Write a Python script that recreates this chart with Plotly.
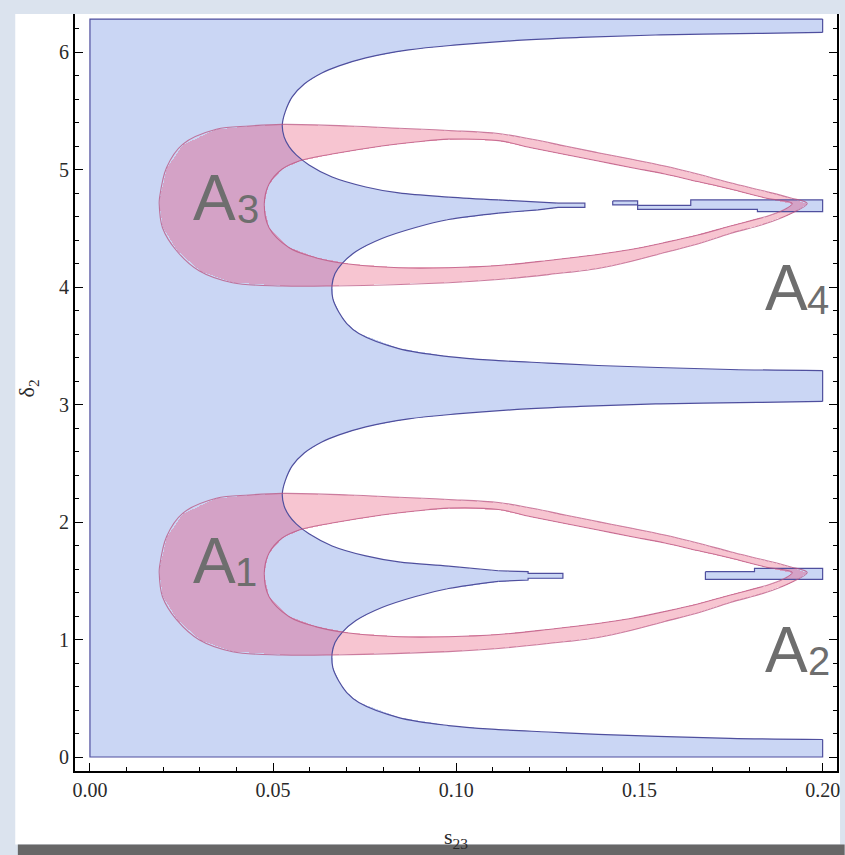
import numpy as np
import plotly.graph_objects as go

# ---------------------------------------------------------------- axes
S23_MIN, S23_MAX = 0.0, 0.2
DELTA_MIN, DELTA_MAX = 0.0, 2 * np.pi
LOBE_CENTRES = [np.pi / 2, 3 * np.pi / 2]

X_TICKS = [0.0, 0.05, 0.10, 0.15, 0.20]
X_TICK_TEXT = ["0.00", "0.05", "0.10", "0.15", "0.20"]
Y_TICKS = [0, 1, 2, 3, 4, 5, 6]

# ------------------------------------------- excluded (white) lobes
# delta values are offsets from the lobe centre (pi/2 or 3pi/2)
# upper branch, outer edge: right border -> leftmost point
UPPER_OUTER_S = [0.2000, 0.1822, 0.1558, 0.1338, 0.1191, 0.1001, 0.0870,
                 0.0753, 0.0680, 0.0633, 0.0585, 0.0552, 0.0533, 0.0525]
UPPER_OUTER_D = [1.457, 1.448, 1.436, 1.414, 1.393, 1.350, 1.308,
                 1.240, 1.172, 1.112, 1.018, 0.908, 0.780, 0.669]
# upper branch, inner edge: leftmost point -> start of the spike
UPPER_INNER_S = [0.0530, 0.0544, 0.0563, 0.0598, 0.0661, 0.0753, 0.0843, 0.0979]
UPPER_INNER_D = [0.567, 0.482, 0.414, 0.329, 0.226, 0.141, 0.090, 0.055]
# lower branch, inner edge: start of the spike -> leftmost point
LOWER_INNER_S = [0.0979, 0.0889, 0.0797, 0.0726, 0.0688, 0.0669, 0.0661]
LOWER_INNER_D = [-0.136, -0.204, -0.298, -0.409, -0.511, -0.596, -0.690]
# lower branch, outer edge: leftmost point -> right border
LOWER_OUTER_S = [0.0663, 0.0680, 0.0701, 0.0734, 0.0843, 0.0979, 0.1115,
                 0.1251, 0.1387, 0.1550, 0.1748, 0.2000]
LOWER_OUTER_D = [-0.809, -0.928, -1.022, -1.107, -1.235, -1.303, -1.337,
                 -1.358, -1.379, -1.396, -1.413, -1.422]

# the allowed spike reaching into each lobe (lower lobe, upper lobe)
SPIKE_TOP_S = [[0.1115, 0.1196, 0.1196, 0.1291],
               [0.1115, 0.1223, 0.1278, 0.1351]]
SPIKE_TOP_D = [[0.015, 0.007, -0.007, -0.007],
               [0.031, 0.016, 0.003, 0.003]]
SPIKE_BOT_S = [[0.1291, 0.1196, 0.1196, 0.1115],
               [0.1351, 0.1278, 0.1223, 0.1115]]
SPIKE_BOT_D = [[-0.049, -0.049, -0.064, -0.075],
               [-0.032, -0.032, -0.054, -0.081]]

# detached allowed strips near the right border (lower lobe, upper lobe)
STRIP_S = [[0.1680, 0.1814, 0.1814, 0.2000, 0.2000, 0.1680],
           [0.1427, 0.1495, 0.1495, 0.1640, 0.1640, 0.2000,
            0.2000, 0.1822, 0.1822, 0.1495, 0.1495, 0.1427]]
STRIP_D = [[0.007, 0.007, 0.036, 0.036, -0.058, -0.058],
           [0.022, 0.022, -0.015, -0.015, 0.031, 0.031,
            -0.069, -0.069, -0.049, -0.049, -0.012, -0.012]]

# ------------------------------------------------- pink bands (rings)
RING_OUTER_S = [0.1958, 0.1911, 0.1841, 0.1748, 0.1659, 0.1569, 0.1476, 0.1387,
                0.1297, 0.1204, 0.1115, 0.0979, 0.0843, 0.0707, 0.0525, 0.0435,
                0.0345, 0.0253, 0.0209, 0.0190, 0.0189, 0.0198, 0.0237, 0.0299,
                0.0389, 0.0525, 0.0661, 0.0979, 0.1115, 0.1251, 0.1387, 0.1476,
                0.1569, 0.1659, 0.1748, 0.1841, 0.1911]
RING_OUTER_D = [0.000, 0.049, 0.106, 0.177, 0.251, 0.319, 0.379, 0.433,
                0.490, 0.549, 0.596, 0.622, 0.641, 0.660, 0.674, 0.660,
                0.632, 0.504, 0.305, 0.049, 0.000, -0.206, -0.404, -0.575,
                -0.674, -0.702, -0.702, -0.674, -0.647, -0.605, -0.553, -0.494,
                -0.417, -0.345, -0.255, -0.175, -0.089]
RING_INNER_S = [0.1917, 0.1841, 0.1748, 0.1659, 0.1569, 0.1476, 0.1387, 0.1297,
                0.1204, 0.1115, 0.0979, 0.0889, 0.0797, 0.0661, 0.0571, 0.0525,
                0.0489, 0.0476, 0.0489, 0.0544, 0.0616, 0.0707, 0.0843, 0.0979,
                0.1115, 0.1251, 0.1387, 0.1476, 0.1569, 0.1659, 0.1748, 0.1841,
                0.1890]
RING_INNER_D = [0.000, 0.049, 0.123, 0.187, 0.251, 0.307, 0.362, 0.417,
                0.475, 0.536, 0.548, 0.524, 0.490, 0.421, 0.362, 0.294,
                0.166, 0.000, -0.206, -0.376, -0.461, -0.515, -0.547, -0.547,
                -0.528, -0.485, -0.434, -0.392, -0.332, -0.268, -0.192, -0.115,
                -0.060]

# --------------------------------------------------------------- labels
REGION_NAMES = ["A", "A", "A", "A"]
REGION_INDEX = ["1", "2", "3", "4"]
LABEL_S = [0.0277, 0.1838, 0.0277, 0.1838]
LABEL_D = [1.670, 0.913, 4.761, 3.995]
INDEX_S = [0.0426, 0.1990, 0.0432, 0.1988]
INDEX_D = [1.575, 0.817, 4.666, 3.891]

# --------------------------------------------------------------- colours
BLUE = "#cad6f4"
PINK = "#f7c5d1"
MAUVE = "#d4a2c6"
BLUE_EDGE = "#4f4f9e"
PINK_EDGE = "rgba(185,80,125,0.75)"
LABEL_GREY = "#6e6e6e"
PAPER = "#dbe3ee"


def lobe_outline(k, c):
    s = (UPPER_OUTER_S + UPPER_INNER_S + SPIKE_TOP_S[k] + SPIKE_BOT_S[k]
         + LOWER_INNER_S + LOWER_OUTER_S)
    d = (UPPER_OUTER_D + UPPER_INNER_D + SPIKE_TOP_D[k] + SPIKE_BOT_D[k]
         + LOWER_INNER_D + LOWER_OUTER_D)
    return np.array(s), c + np.array(d)


def inside(ps, pd, S, D):
    ps = np.asarray(ps)
    pd = np.asarray(pd)
    res = np.zeros(S.shape, dtype=bool)
    j = len(ps) - 1
    with np.errstate(divide="ignore", invalid="ignore"):
        for i in range(len(ps)):
            cross = (pd[i] > D) != (pd[j] > D)
            xint = (ps[j] - ps[i]) * (D - pd[i]) / (pd[j] - pd[i]) + ps[i]
            res ^= cross & (S < xint)
            j = i
    return res


# raster of the region classes on the (s23, delta) plane
NS, ND = 736, 740
s_cells = S23_MIN + (np.arange(NS) + 0.5) * (S23_MAX - S23_MIN) / NS
d_cells = DELTA_MIN + (np.arange(ND) + 0.5) * (DELTA_MAX - DELTA_MIN) / ND
S, D = np.meshgrid(s_cells, d_cells)

excluded = np.zeros(S.shape, dtype=bool)
pink = np.zeros(S.shape, dtype=bool)
for k, c in enumerate(LOBE_CENTRES):
    ls, ld = lobe_outline(k, c)
    excluded |= inside(ls, ld, S, D) & ~inside(STRIP_S[k], c + np.array(STRIP_D[k]), S, D)
    pink |= (inside(RING_OUTER_S, c + np.array(RING_OUTER_D), S, D)
             & ~inside(RING_INNER_S, c + np.array(RING_INNER_D), S, D))
allowed = ~excluded
z = (allowed.astype(np.int8) + 2 * pink.astype(np.int8))

colorscale = [[0.0, "#ffffff"], [0.25, "#ffffff"], [0.25, BLUE], [0.5, BLUE],
              [0.5, PINK], [0.75, PINK], [0.75, MAUVE], [1.0, MAUVE]]

fig = go.Figure()
fig.add_trace(go.Heatmap(x=s_cells, y=d_cells, z=z, zmin=-0.5, zmax=3.5,
                         colorscale=colorscale, showscale=False,
                         hoverinfo="skip", zsmooth=False))


def edge(xs, ys, color, shape="linear", width=1.2):
    fig.add_trace(go.Scatter(x=xs, y=ys, mode="lines", hoverinfo="skip",
                             showlegend=False,
                             line=dict(color=color, width=width, shape=shape,
                                       smoothing=1.0 if shape == "spline" else None)))


# boundary of the blue (allowed) region: frame pieces
lo_top = UPPER_OUTER_D[0]
lo_bot = LOWER_OUTER_D[-1]
c1, c2 = LOBE_CENTRES
edge([S23_MAX, S23_MIN, S23_MIN, S23_MAX, S23_MAX],
     [DELTA_MAX, DELTA_MAX, DELTA_MIN, DELTA_MIN, c1 + lo_bot], BLUE_EDGE)
edge([S23_MAX, S23_MAX], [c1 + lo_top, c2 + lo_bot], BLUE_EDGE)
edge([S23_MAX, S23_MAX], [c2 + lo_top, DELTA_MAX], BLUE_EDGE)

# lobe edges: smooth branches plus the stepped spike
for k, c in enumerate(LOBE_CENTRES):
    us = UPPER_OUTER_S + UPPER_INNER_S + SPIKE_TOP_S[k][:1]
    ud = UPPER_OUTER_D + UPPER_INNER_D + SPIKE_TOP_D[k][:1]
    edge(us, list(c + np.array(ud)), BLUE_EDGE, "spline")
    ks = SPIKE_TOP_S[k] + SPIKE_BOT_S[k]
    kd = SPIKE_TOP_D[k] + SPIKE_BOT_D[k]
    edge(ks, list(c + np.array(kd)), BLUE_EDGE)
    ws = SPIKE_BOT_S[k][-1:] + LOWER_INNER_S + LOWER_OUTER_S
    wd = SPIKE_BOT_D[k][-1:] + LOWER_INNER_D + LOWER_OUTER_D
    edge(ws, list(c + np.array(wd)), BLUE_EDGE, "spline")
    edge(STRIP_S[k] + STRIP_S[k][:1],
         list(c + np.array(STRIP_D[k] + STRIP_D[k][:1])), BLUE_EDGE)

# pink band edges
for c in LOBE_CENTRES:
    for cs, cd in ((RING_OUTER_S, RING_OUTER_D), (RING_INNER_S, RING_INNER_D)):
        edge(cs + cs[:1], list(c + np.array(cd + cd[:1])), PINK_EDGE, "spline", 1.1)

annotations = []
for name, idx, xs, ys, xi, yi in zip(REGION_NAMES, REGION_INDEX, LABEL_S, LABEL_D,
                                      INDEX_S, INDEX_D):
    annotations.append(dict(x=xs, y=ys, xref="x", yref="y", text=name,
                            showarrow=False, xanchor="left", yanchor="middle",
                            font=dict(family="Liberation Sans, Arial", size=64,
                                      color=LABEL_GREY)))
    annotations.append(dict(x=xi, y=yi, xref="x", yref="y", text=idx,
                            showarrow=False, xanchor="center", yanchor="middle",
                            font=dict(family="Liberation Sans, Arial", size=40,
                                      color=LABEL_GREY)))

axis_font = dict(family="Liberation Serif, Times New Roman", size=20, color="#2a2a2a")
title_font = dict(family="Liberation Serif, Times New Roman", size=22, color="#2a2a2a")
annotations.append(dict(x=0.5, y=-0.089, xref="paper", yref="paper",
                        text="s<sub>23</sub>", showarrow=False,
                        font=title_font, xanchor="center", yanchor="middle"))
annotations.append(dict(x=-0.062, y=0.505, xref="paper", yref="paper",
                        text="δ<sub>2</sub>", showarrow=False, textangle=-90,
                        font=title_font, xanchor="center", yanchor="middle"))

shapes = [
    # white sheet behind the plot
    dict(type="rect", xref="paper", yref="paper", x0=-0.0784, x1=1.004,
         y0=-0.097, y1=1.0, fillcolor="white", line=dict(width=0), layer="below"),
    # shadow under the sheet
    dict(type="rect", xref="paper", yref="paper", x0=-0.075, x1=1.01,
         y0=-0.115, y1=-0.097, fillcolor="#676767", line=dict(width=0),
         layer="below"),
]

fig.update_layout(
    width=845, height=855,
    margin=dict(l=75, r=5, t=14, b=84),
    paper_bgcolor=PAPER, plot_bgcolor="white",
    showlegend=False,
    annotations=annotations,
    shapes=shapes,
    xaxis=dict(range=[-0.00408, 0.20392], tickvals=X_TICKS, ticktext=X_TICK_TEXT,
               ticks="inside", ticklen=8, tickwidth=1.2, tickcolor="black",
               minor=dict(ticks="inside", ticklen=4, dtick=0.01, tick0=0,
                          tickcolor="black", tickwidth=1),
               showline=True, linecolor="black", linewidth=2, mirror=False,
               showgrid=False, zeroline=False, tickfont=axis_font),
    yaxis=dict(range=[-0.1192, 6.3261], tickvals=Y_TICKS,
               ticks="inside", ticklen=8, tickwidth=1.2, tickcolor="black",
               minor=dict(ticks="inside", ticklen=4, dtick=0.2, tick0=0,
                          tickcolor="black", tickwidth=1),
               showline=True, linecolor="black", linewidth=2, mirror="ticks",
               showgrid=False, zeroline=False, tickfont=axis_font),
)

fig.write_html("out.html")
